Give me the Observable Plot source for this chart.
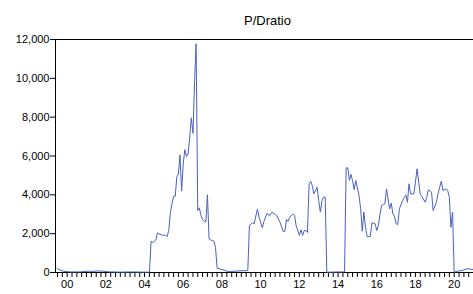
<!DOCTYPE html>
<html>
<head>
<meta charset="utf-8">
<script src="https://cdn.jsdelivr.net/npm/d3@7"></script>
<script src="https://cdn.jsdelivr.net/npm/@observablehq/plot@0.6"></script>
<style>
  html, body { margin: 0; padding: 0; background: #fff; }
</style>
</head>
<body>
<div id="chart"></div>
<script>
const title = "P/Dratio";

const months = [
  "2000-01","2000-03","2000-05","2000-09","2001-03","2001-08","2001-10","2002-02","2002-05","2002-09",
  "2003-05","2003-11","2004-05","2004-10","2004-11","2004-12","2005-01","2005-02","2005-03","2005-04",
  "2005-06","2005-08","2005-09","2005-10","2005-11","2005-12","2006-01","2006-02","2006-03","2006-04",
  "2006-05","2006-06","2006-07","2006-08","2006-09","2006-10","2006-11","2006-12","2007-01","2007-02",
  "2007-03","2007-04","2007-05","2007-06","2007-07","2007-08","2007-09","2007-10","2007-11","2007-12",
  "2008-01","2008-02","2008-03","2008-04","2008-07","2008-10","2008-12","2009-03","2009-11","2009-12",
  "2010-02","2010-03","2010-05","2010-06","2010-08","2010-09","2010-11","2010-12","2011-01","2011-02",
  "2011-04","2011-05","2011-07","2011-09","2011-10","2011-11","2011-12","2012-01","2012-03","2012-04",
  "2012-05","2012-07","2012-08","2012-09","2012-10","2012-11","2012-12","2013-01","2013-02","2013-03",
  "2013-04","2013-06","2013-07","2013-08","2013-09","2013-10","2013-11","2013-12","2014-03","2014-08",
  "2014-11","2014-12","2015-01","2015-02","2015-03","2015-04","2015-05","2015-06","2015-08","2015-09",
  "2015-10","2015-11","2015-12","2016-01","2016-03","2016-04","2016-06","2016-07","2016-08","2016-09",
  "2016-10","2016-11","2016-12","2017-01","2017-03","2017-04","2017-05","2017-06","2017-07","2017-08",
  "2017-09","2017-11","2017-12","2018-01","2018-02","2018-03","2018-04","2018-06","2018-07","2018-08",
  "2018-09","2018-10","2018-11","2019-01","2019-02","2019-03","2019-05","2019-06","2019-08","2019-09",
  "2019-10","2019-11","2019-12","2020-02","2020-03","2020-04","2020-05","2020-06","2020-07","2020-09",
  "2020-12","2021-03","2021-07"
];

const values = [
  200,110,60,30,30,70,50,80,70,30,
  20,30,20,20,1610,1545,1600,1680,2040,1990,
  1920,1920,1850,2160,3100,3540,3930,3930,4910,5080,
  6060,4190,5600,6330,5970,6110,6970,7970,7170,9890,
  11780,3190,3330,2940,2730,2640,2600,4000,1730,1680,
  1650,1610,1300,220,155,70,40,70,100,2420,
  2560,2510,3260,2850,2300,2630,3050,2940,2970,3110,
  2990,2940,2590,2110,2110,2730,2630,2850,3020,2940,
  2420,1910,2200,1910,2160,2160,2060,4570,4700,4480,
  4050,4390,3710,3110,3710,3880,3880,15,20,30,
  30,5390,5390,4740,5050,4740,4270,4740,3970,3280,
  2130,3110,2330,1850,1850,2560,2510,2160,2420,3020,
  3450,3500,3540,4310,3280,3570,3020,2900,2510,2470,
  3280,3710,3850,4000,3620,4570,4050,4050,4650,5340,
  4650,4020,3910,3620,3880,4260,4140,3190,3620,4050,
  4390,4700,4220,4310,4220,3880,2330,3110,15,70,
  100,190,155
];

const yTicks = [0, 2000, 4000, 6000, 8000, 10000, 12000];
const xTickLabels = ["00","02","04","06","08","10","12","14","16","18","20"];
const xLabelDates = ["2000-07","2002-07","2004-07","2006-07","2008-07","2010-07","2012-07","2014-07","2016-07","2018-07","2020-07"];

const parse = s => new Date(s + "-01T00:00:00Z");
const data = months.map((m, i) => ({date: parse(m), value: values[i]}));

const xStart = parse("2000-01");
const xEnd = parse("2021-07");
const quarterTicks = d3.utcMonth.every(3).range(xStart, xEnd);
const labelDates = xLabelDates.map(parse);
const labelMap = new Map(labelDates.map((d, i) => [+d, xTickLabels[i]]));

const chart = Plot.plot({
  width: 473,
  height: 294,
  marginLeft: 55,
  marginRight: 0,
  marginTop: 39,
  marginBottom: 22,
  style: {fontFamily: "'Liberation Sans', Arial, sans-serif", fontSize: "11px", color: "#000", background: "#fff"},
  x: {type: "utc", domain: [xStart, xEnd], range: [57, 473]},
  y: {domain: [0, 12000], range: [272, 39]},
  marks: [
    Plot.axisY({ticks: yTicks, tickFormat: d3.format(","), tickSize: 5, tickPadding: 1, label: null, stroke: "#000"}),
    Plot.axisX({ticks: quarterTicks, tickFormat: () => "", tickSize: 5, label: null, stroke: "#000"}),
    Plot.axisX({ticks: labelDates, tickFormat: d => labelMap.get(+d), tickSize: 0, tickPadding: 8, label: null}),
    Plot.ruleY([12000], {stroke: "#000"}),
    Plot.ruleY([0], {stroke: "#000"}),
    Plot.ruleX([xStart], {y1: 0, y2: 12000, dx: -2, stroke: "#000"}),
    Plot.lineY(data, {x: "date", y: "value", stroke: "#4b62c0", strokeWidth: 1}),
    Plot.text([title], {frameAnchor: "top", dy: -24, dx: 3, fontSize: 13, fill: "#000"})
  ]
});

document.getElementById("chart").appendChild(chart);
</script>
</body>
</html>
